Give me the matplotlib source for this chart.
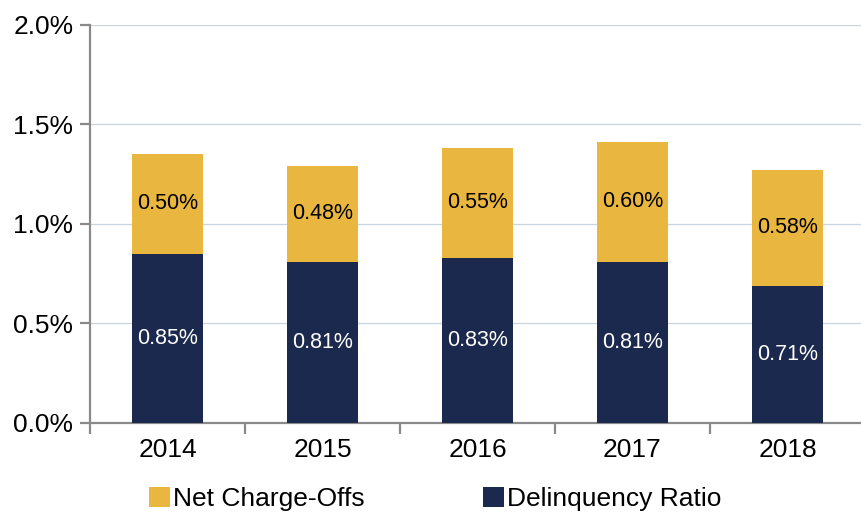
import matplotlib.pyplot as plt
import numpy as np

years = ['2014', '2015', '2016', '2017', '2018']
delinquency = [0.85, 0.81, 0.83, 0.81, 0.69]
charge_offs = [0.50, 0.48, 0.55, 0.60, 0.58]
delinquency_labels = ['0.85%', '0.81%', '0.83%', '0.81%', '0.71%']
charge_off_labels = ['0.50%', '0.48%', '0.55%', '0.60%', '0.58%']

navy = '#1A294D'
gold = '#E9B740'
spine_gray = '#8A8A8A'

plt.rcParams['font.family'] = ['Liberation Sans', 'DejaVu Sans']

fig = plt.figure(figsize=(8.62, 5.12), dpi=100)
ax = fig.add_axes([90 / 862, 89 / 512, 775 / 862, 398.5 / 512])

x = np.arange(len(years))
w = 0.46
b1 = ax.bar(x, delinquency, w, color=navy, label='Delinquency Ratio', zorder=3)
b2 = ax.bar(x, charge_offs, w, bottom=delinquency, color=gold, label='Net Charge-Offs', zorder=3)

for i in range(len(years)):
    ax.text(x[i], delinquency[i] / 2, delinquency_labels[i], ha='center', va='center',
            color='white', fontsize=15.5, zorder=4)
    ax.text(x[i], delinquency[i] + charge_offs[i] / 2, charge_off_labels[i], ha='center',
            va='center', color='black', fontsize=15.5, zorder=4)

ax.set_xlim(-0.5, 4.5)
ax.set_ylim(0, 2.0)
ax.set_yticks([0, 0.5, 1.0, 1.5, 2.0])
ax.set_yticklabels(['0.0%', '0.5%', '1.0%', '1.5%', '2.0%'])
ax.set_xticks(x)
ax.set_xticklabels(years)
ax.set_xticks(np.arange(-0.5, 5.0, 1.0), minor=True)

ax.yaxis.grid(True, color='#C9D5DE', linewidth=0.9, zorder=0)
ax.set_axisbelow(True)

for s in ['top', 'right']:
    ax.spines[s].set_visible(False)
for s in ['left', 'bottom']:
    ax.spines[s].set_color(spine_gray)
    ax.spines[s].set_linewidth(1.6)

ax.tick_params(axis='y', length=7, width=1.6, color=spine_gray, labelsize=19, pad=5)
ax.tick_params(axis='x', which='major', length=0, labelsize=19, pad=11)
ax.tick_params(axis='x', which='minor', length=8, width=1.6, color=spine_gray)

fig.legend(handles=[b2, b1], labels=['Net Charge-Offs', 'Delinquency Ratio'],
           loc='center left', bbox_to_anchor=(149 / 862, 13 / 512), ncol=2, frameon=False,
           fontsize=19, handlelength=0.78, handleheight=0.78, handletextpad=0.12,
           columnspacing=4.5, borderpad=0, borderaxespad=0)

fig.savefig('out.png', dpi=100)
